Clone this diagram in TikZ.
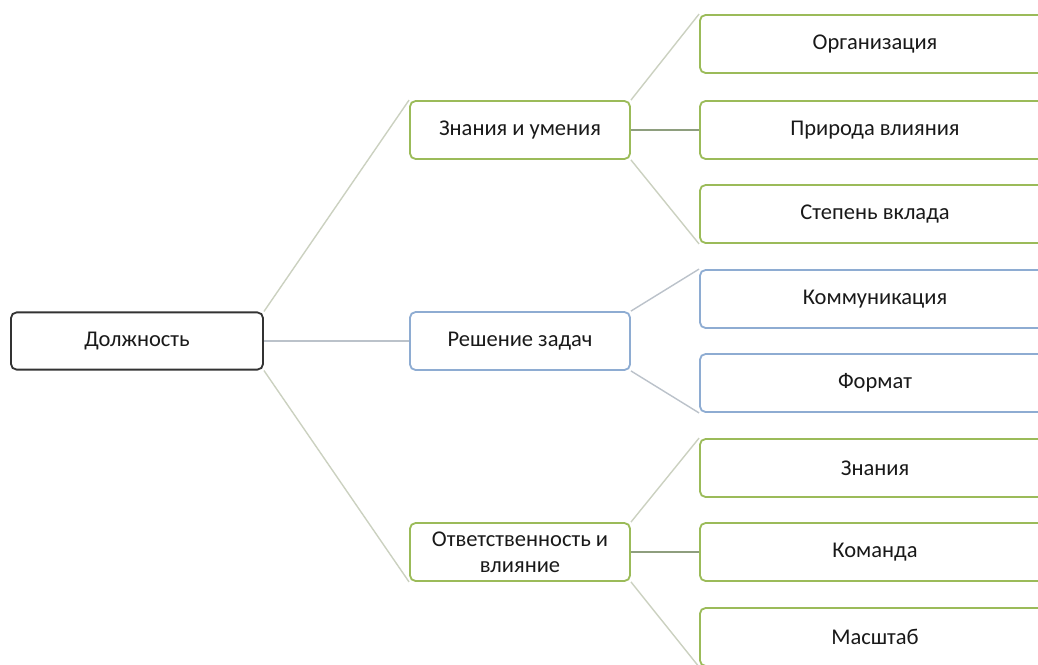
\documentclass[tikz,border=0pt]{standalone}
\usepackage{fontspec}
\setmainfont{Carlito}
\usepackage{xcolor}
\usepackage{tikz}
\usetikzlibrary{positioning}

\definecolor{verde}{HTML}{9BBB59}
\definecolor{blu}{HTML}{8EACD2}
\definecolor{scuro}{HTML}{333333}
\definecolor{lineachiara}{HTML}{CBD1C0}
\definecolor{lineagrigia}{HTML}{BBC2CA}
\definecolor{lineascura}{HTML}{8E9E7E}

\begin{document}
\begin{tikzpicture}[x=0.025cm, y=-0.025cm,
    every node/.style={rectangle, rounded corners=4pt, line width=1.3pt, fill=white,
      align=center, text=black!90, font=\fontsize{16}{18.5}\selectfont},
    radice/.style={draw=scuro, minimum width=6.3cm, minimum height=1.43cm},
    ramo/.style={draw=#1, minimum width=5.5cm, minimum height=1.45cm},
    foglia/.style={draw=#1, minimum width=8.75cm, minimum height=1.45cm},
    filo/.style={draw=#1, line width=1pt}]

    \useasboundingbox (0,0) rectangle (1038,664);
    \clip (0,0) rectangle (1038,664);

    % Radice
    \node[radice] (dol) at (137,341) {Должность};

    % Rami
    \node[ramo=verde] (zn) at (520,130) {Знания и умения};
    \node[ramo=blu] (res) at (520,341) {Решение задач};
    \node[ramo=verde] (otv) at (520,552) {Ответственность и\\влияние};

    % Foglie
    \node[foglia=verde] (org) at (875,44) {Организация};
    \node[foglia=verde] (pri) at (875,130) {Природа влияния};
    \node[foglia=verde] (ste) at (875,214) {Степень вклада};
    \node[foglia=blu] (kom) at (875,299) {Коммуникация};
    \node[foglia=blu] (for) at (875,383) {Формат};
    \node[foglia=verde] (zna) at (875,468) {Знания};
    \node[foglia=verde] (kmd) at (875,552) {Команда};
    \node[foglia=verde] (mas) at (875,637) {Масштаб};

    % Collegamenti
    \draw[filo=lineachiara] (dol.north east) -- (zn.north west);
    \draw[filo=lineagrigia] (dol.east) -- (res.west);
    \draw[filo=lineachiara] (dol.south east) -- (otv.south west);

    \draw[filo=lineachiara] (zn.north east) -- (org.north west);
    \draw[filo=lineascura] (zn.east) -- (pri.west);
    \draw[filo=lineachiara] (zn.south east) -- (ste.south west);

    \draw[filo=lineagrigia] (res.north east) -- (kom.north west);
    \draw[filo=lineagrigia] (res.south east) -- (for.south west);

    \draw[filo=lineachiara] (otv.north east) -- (zna.north west);
    \draw[filo=lineascura] (otv.east) -- (kmd.west);
    \draw[filo=lineachiara] (otv.south east) -- (mas.south west);
    \end{tikzpicture}
\end{document}
